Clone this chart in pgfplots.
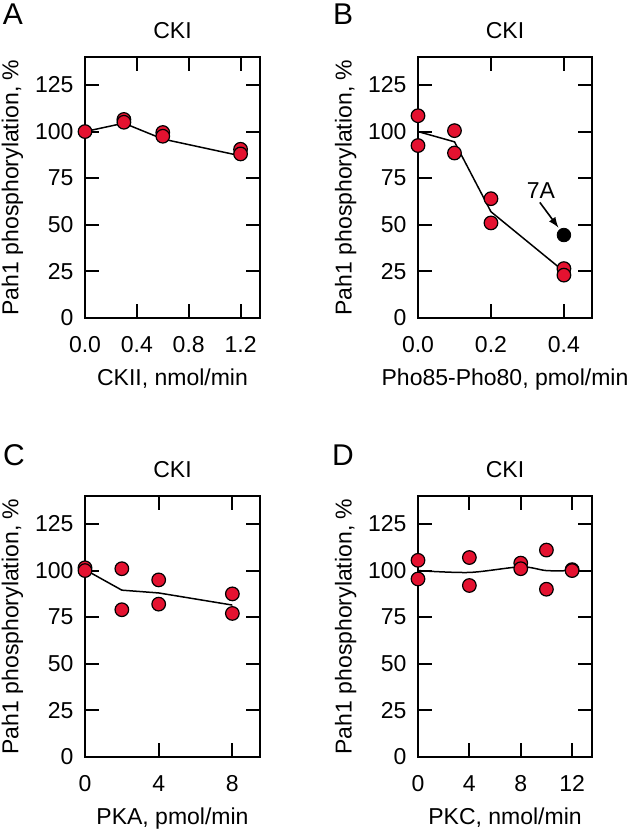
\documentclass[border=0pt]{standalone}
\usepackage{fontspec}
\setmainfont{Liberation Sans}
\usepackage{pgfplots}
\pgfplotsset{compat=1.18}
\definecolor{dotred}{RGB}{228,18,48}
\newcommand{\fs}{\fontsize{11.5}{13}\selectfont}
\newcommand{\fl}{\fontsize{15}{17}\selectfont}

% 1 px of the reference = 0.5pt
\pgfplotsset{
  panel/.style={
    scale only axis, height=130.5pt, anchor=south west,
    ymin=0, ymax=140, ytick={0,25,50,75,100,125},
    axis line style={line width=1pt},
    tick align=inside, major tick length=7pt,
    every tick/.style={black, line width=1pt},
    /pgf/number format/assume math mode=true,
    tick label style={font=\fs},
    xticklabel style={yshift=-5.6pt},
    yticklabel style={xshift=-2.2pt},
    title style={font=\fs, at={(axis description cs:0.5,1)}, anchor=base, yshift=3.5pt},
    xlabel style={font=\fs, at={(axis description cs:0.5,0)}, anchor=base, yshift=-33.5pt},
    ylabel style={font=\fs, at={(axis description cs:-0.415,0.5)}, anchor=center},
    ylabel={Pah1 phosphorylation, \%},
    title={CKI},
    clip=false,
  },
  fitline/.style={black, line width=0.75pt, no markers},
  dots/.style={only marks, mark=*, mark size=3.4pt,
    mark options={fill=dotred, draw=black, line width=0.6pt}},
}

\begin{document}
\begin{tikzpicture}
\path[use as bounding box] (0,0) rectangle (316.5pt,-417pt);

% A
\begin{axis}[panel, at={(42.5pt,-159pt)}, width=87.5pt,
  xmin=0, xmax=1.35, xtick={0,0.4,0.8,1.2},
  xticklabel style={/pgf/number format/.cd, fixed, fixed zerofill, precision=1},
  xlabel={CKII, nmol/min}]
\addplot[fitline] coordinates {(0,100) (0.3,104.5) (0.6,96) (1.2,87)};
\addplot[dots] coordinates {(0,100) (0.3,106.5) (0.3,105) (0.6,99.5) (0.6,97.5) (1.2,90.5) (1.2,88)};
\end{axis}

% B
\begin{axis}[panel, at={(209pt,-159pt)}, width=87pt,
  xmin=0, xmax=0.477, xtick={0,0.2,0.4},
  xticklabel style={/pgf/number format/.cd, fixed, fixed zerofill, precision=1},
  xlabel={Pho85-Pho80, pmol/min}]
\addplot[fitline] coordinates {(0,100) (0.1,94.5) (0.2,57) (0.4,25)};
\addplot[dots] coordinates {(0,108.5) (0,92.5) (0.1,100.5) (0.1,88.5) (0.2,64) (0.2,51) (0.4,26.5) (0.4,23)};
\addplot[dots, mark options={fill=black}] coordinates {(0.4,44.5)};
\node[font=\fs] at (axis cs:0.337,68.5) {7A};
\draw[-latex, line width=0.8pt] (axis cs:0.334,62) -- (axis cs:0.385,48.5);
\end{axis}

% C
\begin{axis}[panel, at={(42.5pt,-378.5pt)}, width=87.5pt,
  xmin=0, xmax=9.5, xtick={0,4,8},
  xlabel={PKA, pmol/min}]
\addplot[fitline] coordinates {(0,100.5) (2,89.5) (4,88) (8,81.5)};
\addplot[dots] coordinates {(0,101.5) (0,100) (2,101) (2,79) (4,95) (4,82) (8,87.5) (8,77)};
\end{axis}

% D
\begin{axis}[panel, at={(209pt,-378.5pt)}, width=87pt,
  xmin=0, xmax=13.55, xtick={0,4,8,12},
  xlabel={PKC, nmol/min}]
\addplot[fitline, smooth] coordinates {(0,100) (4,99) (8,102) (10,100) (12,100)};
\addplot[dots] coordinates {(0,105.5) (0,95.5) (4,107) (4,92) (8,104) (8,101) (10,111) (10,90) (12,100.5) (12,100)};
\end{axis}

\node[font=\fl] at (6.5pt,-7pt) {A};
\node[font=\fl] at (171.5pt,-7pt) {B};
\node[font=\fl] at (7pt,-227.5pt) {C};
\node[font=\fl] at (171.5pt,-227.5pt) {D};
\end{tikzpicture}
\end{document}
